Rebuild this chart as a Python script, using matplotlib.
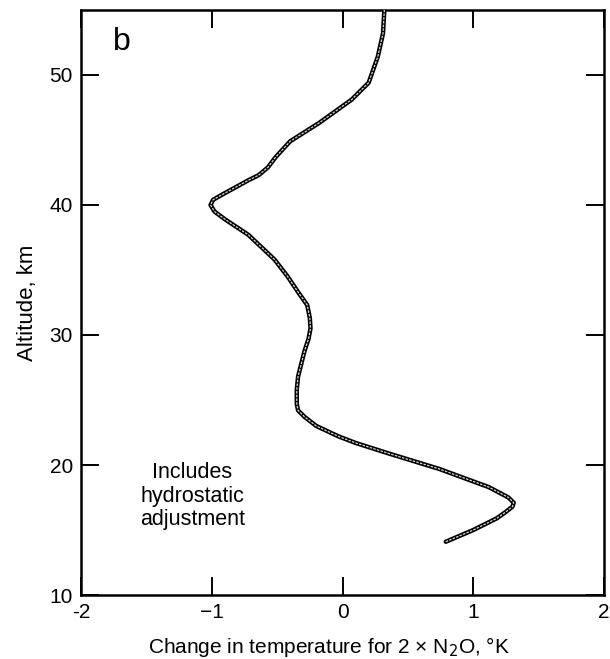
import matplotlib
matplotlib.use("Agg")
import matplotlib.pyplot as plt

plt.rcParams['font.family'] = ['Liberation Sans', 'DejaVu Sans']

# Temperature change (K) vs altitude (km)
temp_change = [0.79, 1.00, 1.18, 1.25, 1.30, 1.31, 1.27, 1.12, 0.74, 0.35,
               0.10, -0.03, -0.20, -0.29, -0.34, -0.35, -0.35, -0.34, -0.31,
               -0.29, -0.26, -0.245, -0.25, -0.27, -0.34, -0.42, -0.52, -0.72,
               -0.90, -0.98, -1.01, -0.99, -0.92, -0.72, -0.64, -0.57, -0.51,
               -0.40, -0.18, 0.07, 0.20, 0.27, 0.31, 0.32]
altitude = [14.1, 15.0, 15.9, 16.4, 16.8, 17.1, 17.5, 18.3, 19.7, 20.9,
            21.7, 22.2, 23.0, 23.7, 24.2, 24.7, 25.8, 26.8, 28.0,
            28.8, 29.7, 30.5, 31.3, 32.3, 33.3, 34.5, 35.8, 37.7,
            38.9, 39.5, 40.0, 40.4, 40.8, 41.9, 42.3, 42.9, 43.7,
            44.9, 46.3, 48.1, 49.4, 51.4, 53.2, 55.0]

x_ticks = [-2, -1, 0, 1, 2]
x_ticklabels = ['-2', '\u22121', '0', '1', '2']
y_ticks = [10, 20, 30, 40, 50]

fig = plt.figure(figsize=(6.10, 6.59), dpi=100)
ax = fig.add_axes([0.133, 0.097, 0.857, 0.888])

ax.plot(temp_change, altitude, color='black', lw=3.2, solid_capstyle='round',
        solid_joinstyle='round', zorder=3)
ax.plot(temp_change, altitude, color='#d8d8d8', lw=0.9, solid_capstyle='round',
        solid_joinstyle='round', zorder=4, ls=(0, (2, 1)))

ax.set_xlim(-2, 2)
ax.set_ylim(10, 55)
ax.set_xticks(x_ticks)
ax.set_xticklabels(x_ticklabels)
ax.set_yticks(y_ticks)

ax.tick_params(direction='in', length=13, width=1.4, top=True, right=True,
               labelsize=15, pad=6, colors='black')
for s in ax.spines.values():
    s.set_linewidth(1.8)

ax.set_xlabel('Change in temperature for 2 \u00d7 N$_2$O, \u00b0K', fontsize=15)
ax.xaxis.set_label_coords(0.475, -0.068)
ax.set_ylabel('Altitude, km', fontsize=16, labelpad=8)

ax.text(-1.15, 17.6, 'Includes\nhydrostatic\nadjustment', ha='center', va='center',
        fontsize=15.5, linespacing=1.15)
ax.text(-1.69, 52.5, 'b', ha='center', va='center', fontsize=23)

fig.savefig('out.png', dpi=100)
